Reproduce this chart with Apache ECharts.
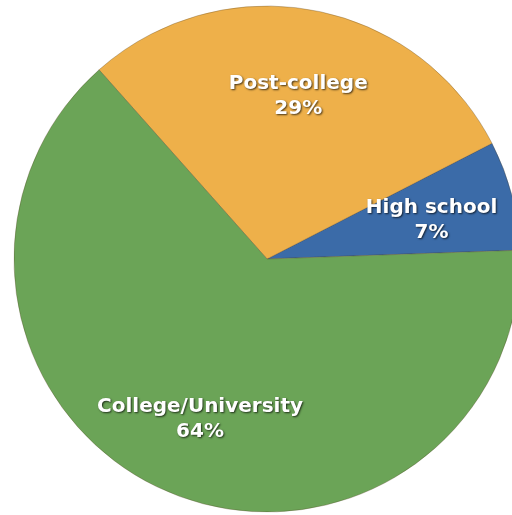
<!DOCTYPE html>
<html>
<head>
<meta charset="utf-8">
<script src="https://cdn.jsdelivr.net/npm/echarts@6/dist/echarts.min.js"></script>
<style>
  html, body { margin: 0; padding: 0; background: #fff; }
  #main { width: 512px; height: 515px; }
</style>
</head>
<body>
<div id="main"></div>
<script>
// data
var categories = ['High school', 'Post-college', 'College/University'];
var shares = [7, 29, 64];
var colors = ['#3b6ba8', '#eeb04a', '#6ba457'];

var pieData = categories.map(function (name, i) {
  return { name: name, value: shares[i], itemStyle: { color: colors[i] } };
});

var myChart = echarts.init(document.getElementById('main'));

myChart.setOption({
  animation: false,
  series: [
    {
      // the pie itself
      type: 'pie',
      center: [267, 259],
      radius: 253,
      startAngle: 2,
      clockwise: false,
      silent: true,
      label: { show: false },
      labelLine: { show: false },
      itemStyle: { borderColor: 'rgba(80,60,30,0.3)', borderWidth: 1 },
      data: pieData
    },
    {
      // transparent ring only to put the labels at ~2/3 of the radius
      type: 'pie',
      center: [267, 259],
      radius: [81, 253],
      startAngle: 2,
      clockwise: false,
      silent: true,
      itemStyle: { color: 'rgba(0,0,0,0)', borderWidth: 0 },
      label: {
        show: true,
        position: 'inside',
        formatter: '{b}\n{c}%',
        color: '#ffffff',
        fontFamily: 'DejaVu Sans',
        fontWeight: 'bold',
        fontSize: 20,
        lineHeight: 25,
        textShadowColor: 'rgba(0,0,0,0.7)',
        textShadowBlur: 2,
        textShadowOffsetX: 1,
        textShadowOffsetY: 1
      },
      labelLayout: function () {
        return { dy: 4 };
      },
      labelLine: { show: false },
      data: categories.map(function (name, i) {
        return { name: name, value: shares[i] };
      })
    }
  ]
});

window.onresize = function () {
  myChart.resize();
};
</script>
</body>
</html>
